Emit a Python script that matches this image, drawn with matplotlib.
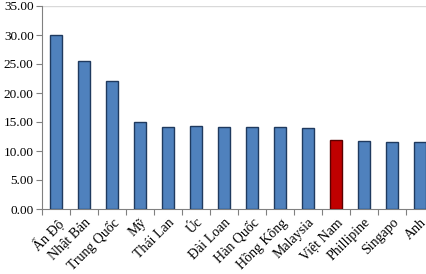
import matplotlib
matplotlib.use("Agg")
import matplotlib.pyplot as plt
from matplotlib.transforms import ScaledTranslation

categories = ["Ấn Độ", "Nhật Bản", "Trung Quốc", "Mỹ", "Thái Lan", "Úc", "Đài Loan",
              "Hàn Quốc", "Hồng Kông", "Malaysia", "Việt Nam", "Phillipine", "Singapo", "Anh"]
values = [30.0, 25.5, 22.0, 15.0, 14.1, 14.3, 14.1, 14.1, 14.1, 13.9, 11.95, 11.7, 11.5, 11.5]
highlight = "Việt Nam"
yticks = [0, 5, 10, 15, 20, 25, 30, 35]

plt.rcParams['font.family'] = ['Liberation Serif', 'DejaVu Serif']

fig = plt.figure(figsize=(4.26, 2.74), dpi=100)
ax = fig.add_axes([42/426, 1-209/274, 392/426, 203/274])

x = list(range(len(categories)))
colors = ["#C00000" if c == highlight else "#4F81BD" for c in categories]
edges = ["#5A0000" if c == highlight else "#1F3A5F" for c in categories]
ax.bar(x, values, width=0.43, color=colors, edgecolor=edges, linewidth=1.0, zorder=3)

ax.set_xlim(-0.5, len(categories) - 0.5)
ax.set_ylim(0, 35)
ax.set_yticks(yticks)
ax.set_yticklabels([f"{v:.2f}" for v in yticks], fontsize=9.5)
ax.axhline(35, color="#D9D9D9", linewidth=1.0, zorder=1)

ax.set_xticks([i - 0.5 for i in range(len(categories) + 1)], minor=False)
ax.set_xticklabels([])
ax.set_xticks(x, minor=True)
ax.set_xticklabels(categories, minor=True, rotation=45, ha="right", va="top",
                   rotation_mode="anchor", fontsize=10)
ax.tick_params(axis="x", which="minor", length=0, pad=2)
ax.tick_params(axis="x", which="major", length=4, color="#808080", direction="out")
ax.tick_params(axis="y", length=4, color="#808080", direction="out", pad=2)
for lbl in ax.get_xticklabels(minor=True):
    lbl.set_transform(lbl.get_transform() + ScaledTranslation(0/100, -4/100, fig.dpi_scale_trans))

for s in ["top", "right"]:
    ax.spines[s].set_visible(False)
ax.spines["left"].set_color("#808080")
ax.spines["bottom"].set_color("#808080")

fig.savefig("out.png", dpi=100)
